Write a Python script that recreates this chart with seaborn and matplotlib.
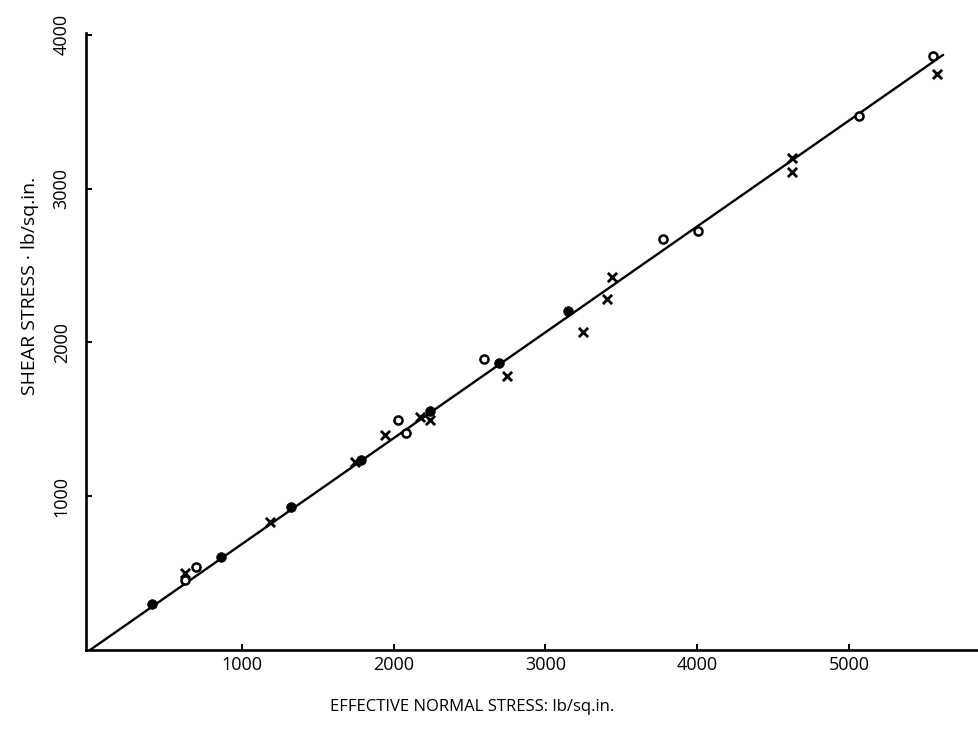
import matplotlib
matplotlib.use("Agg")
import matplotlib.pyplot as plt
import seaborn as sns
import pandas as pd

# ---- data ----
filled_x = [408, 863, 1324, 1785, 2240, 2694, 3149]
filled_y = [299, 605, 930, 1235, 1554, 1866, 2204]

open_x = [626, 698, 2029, 2082, 2596, 3777, 4008, 5068, 5556]
open_y = [455, 540, 1495, 1411, 1890, 2670, 2726, 3472, 3862]

cross_x = [626, 1186, 1746, 1943, 2174, 2240, 2745, 3245, 3404, 3437, 4622, 4627, 5578]
cross_y = [500, 832, 1224, 1398, 1513, 1495, 1781, 2070, 2282, 2427, 3197, 3106, 3743]

fit_x = [0, 5620]
fit_y = [0, 3870]

x_ticks = [1000, 2000, 3000, 4000, 5000]
y_ticks = [1000, 2000, 3000, 4000]
x_label = "EFFECTIVE NORMAL STRESS: lb/sq.in."
y_label = "SHEAR STRESS \u00b7 lb/sq.in."

sns.set_style("ticks")
plt.rcParams['font.family'] = ['Open Sans', 'DejaVu Sans']
plt.rcParams['text.color'] = 'black'
plt.rcParams['axes.labelcolor'] = 'black'

W, H = 979, 743
fig = plt.figure(figsize=(W / 100, H / 100), dpi=100)
L, R, B, T = 86, 979, 650, 33
ax = fig.add_axes([L / W, (H - B) / H, (R - L) / W, (B - T) / H])

df_fit = pd.DataFrame({"x": fit_x, "y": fit_y})
df_f = pd.DataFrame({"x": filled_x, "y": filled_y})
df_o = pd.DataFrame({"x": open_x, "y": open_y})
df_c = pd.DataFrame({"x": cross_x, "y": cross_y})

sns.lineplot(data=df_fit, x="x", y="y", ax=ax, color="black", linewidth=1.7,
             sort=False, estimator=None)
sns.scatterplot(data=df_f, x="x", y="y", ax=ax, marker="o", s=48,
                color="black", edgecolor="black", zorder=3)
sns.scatterplot(data=df_o, x="x", y="y", ax=ax, marker="o", s=34,
                facecolor="white", edgecolor="black", linewidth=1.8, zorder=3)
sns.scatterplot(data=df_c, x="x", y="y", ax=ax, marker="x", s=44,
                color="black", linewidth=2.0, zorder=3)

x0 = -26.4
ax.set_xlim(x0, 5856)
ax.set_ylim(0, 4012)
ax.set_xticks(x_ticks)
ax.set_yticks(y_ticks)
ax.set_xticklabels([str(v) for v in x_ticks])
ax.set_yticklabels([str(v) for v in y_ticks], rotation=90, va="center")

for side in ["top", "right"]:
    ax.spines[side].set_visible(False)
for side in ["left", "bottom"]:
    ax.spines[side].set_linewidth(1.9)
    ax.spines[side].set_color("black")

ax.tick_params(axis="both", direction="in", length=4, width=1.4, colors="black",
               labelsize=13)
ax.tick_params(axis="x", pad=4)
ax.tick_params(axis="y", pad=11)

ax.set_xlabel(x_label, fontsize=12, color="black")
ax.set_ylabel(y_label, fontsize=14, color="black")
ax.xaxis.set_label_coords((472 - L) / (R - L), (B - 699) / (B - T))
ax.yaxis.set_label_coords((39 - L) / (R - L), (B - 286) / (B - T))

fig.savefig("out.png", dpi=100, facecolor="white")
